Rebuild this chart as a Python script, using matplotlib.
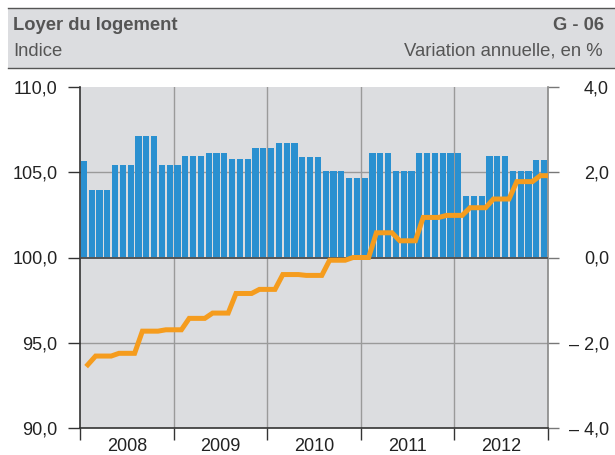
"""Loyer du logement (G - 06): rent index (line, left axis) and
annual change in % (bars, right axis), monthly 2008-2012.
"""
import matplotlib

matplotlib.use("Agg")
import matplotlib.pyplot as plt
from matplotlib.patches import Rectangle
from matplotlib.lines import Line2D

plt.rcParams.update(
    {
        "font.family": ["Liberation Sans", "DejaVu Sans"],
        "figure.dpi": 100,
        "axes.linewidth": 1.2,
    }
)

YEARS = ["2008", "2009", "2010", "2011", "2012"]

# annual change, % (one bar per month)
VARIATION = [
    2.27, 1.59, 1.59, 1.59, 2.18, 2.18, 2.18, 2.84, 2.84, 2.84, 2.18, 2.18,
    2.18, 2.37, 2.37, 2.37, 2.46, 2.46, 2.46, 2.30, 2.30, 2.30, 2.56, 2.56,
    2.56, 2.68, 2.68, 2.68, 2.35, 2.35, 2.35, 2.02, 2.02, 2.02, 1.87, 1.87,
    1.87, 2.46, 2.46, 2.46, 2.04, 2.04, 2.04, 2.46, 2.46, 2.46, 2.46, 2.46,
    2.46, 1.45, 1.45, 1.45, 2.38, 2.38, 2.38, 2.04, 2.04, 2.04, 2.29, 2.29,
]

# index level (one point per month, end of month)
INDEX = [
    93.71, 94.22, 94.22, 94.22, 94.38, 94.38, 94.38, 95.68, 95.68, 95.68, 95.76, 95.76,
    95.76, 96.43, 96.43, 96.43, 96.74, 96.74, 96.74, 97.89, 97.89, 97.89, 98.13, 98.13,
    98.13, 99.00, 99.00, 99.00, 98.95, 98.95, 98.95, 99.84, 99.84, 99.84, 100.00, 100.00,
    100.00, 101.45, 101.45, 101.45, 100.98, 100.98, 100.98, 102.35, 102.35, 102.35, 102.47, 102.47,
    102.47, 102.92, 102.92, 102.92, 103.43, 103.43, 103.43, 104.45, 104.45, 104.45, 104.80, 104.80,
]

INDEX_TICKS = [90, 95, 100, 105, 110]
INDEX_LABELS = ["90,0", "95,0", "100,0", "105,0", "110,0"]
VAR_TICKS = [-4, -2, 0, 2, 4]
VAR_LABELS = ["\u2013 4,0", "\u2013 2,0", "0,0", "2,0", "4,0"]

BG = "#dcdde0"
BLUE = "#2a90d0"
ORANGE = "#f59c1e"
DARK = "#333333"
GRID = "#9a9a9a"
TEXT = "#222222"
HEAD = "#555555"


def header(fig) -> None:
    W, H = fig.get_size_inches() * fig.dpi
    fig.patches.append(
        Rectangle((8 / W, 1 - 68 / H), 1, 60.5 / H, transform=fig.transFigure,
                  facecolor=BG, edgecolor="none", zorder=0)
    )
    for y in (7.5, 68):
        fig.add_artist(Line2D([8 / W, 1], [1 - y / H] * 2, transform=fig.transFigure,
                              color="#555555", lw=1.0))
    fig.text(13 / W, 1 - 25 / H, "Loyer du logement", fontsize=13.2, fontweight="bold",
             color=HEAD, va="center", ha="left")
    fig.text(604 / W, 1 - 25 / H, "G - 06", fontsize=13.2, fontweight="bold",
             color=HEAD, va="center", ha="right")
    fig.text(13 / W, 1 - 51 / H, "Indice", fontsize=13.3, color=HEAD,
             va="center", ha="left")
    fig.text(603 / W, 1 - 51 / H, "Variation annuelle, en %", fontsize=13.3,
             color=HEAD, va="center", ha="right")


def main() -> None:
    fig = plt.figure(figsize=(6.15, 4.55))
    header(fig)

    # bars on the base axes (right scale), line on the twin (left scale) so it sits on top
    ax = fig.add_axes([80 / 615, 27 / 455, 468 / 615, 341 / 455])
    ax2 = ax.twinx()
    ax.yaxis.tick_right()
    ax2.yaxis.tick_left()

    ax.set_facecolor(BG)
    months = range(len(VARIATION))
    ax.bar([m + 0.5 for m in months], VARIATION, width=0.77, color=BLUE, zorder=2)
    ax.set_ylim(-4, 4)
    ax.set_xlim(0, len(VARIATION))
    for v in (-2, 2):
        ax.axhline(v, color=GRID, lw=1.0, zorder=1)
    ax.axhline(0, color="#555555", lw=1.4, zorder=3)
    for k in range(12, len(VARIATION), 12):
        ax.axvline(k, color=GRID, lw=1.0, zorder=1)

    ax.set_yticks(VAR_TICKS)
    ax.set_yticklabels(VAR_LABELS)
    ax.tick_params(axis="y", direction="out", length=8, width=1.0, color="#777777",
                   labelsize=13, labelcolor=TEXT, pad=36)
    for lab in ax.get_yticklabels():
        lab.set_horizontalalignment("right")

    ax.set_xticks(range(0, len(VARIATION) + 1, 12))
    ax.set_xticklabels([])
    ax.set_xticks([6 + 12 * i for i in range(len(YEARS))], minor=True)
    ax.set_xticklabels(YEARS, minor=True)
    ax.tick_params(axis="x", which="major", direction="out", length=8.5, width=1.0,
                   color=DARK)
    ax.tick_params(axis="x", which="minor", length=0, labelsize=13,
                   labelcolor=TEXT, pad=7.5)

    ax.spines["top"].set_visible(False)
    ax.spines["left"].set_color(DARK)
    ax.spines["bottom"].set_color(DARK)
    ax.spines["right"].set_color("#888888")

    ax2.plot([m + 1 for m in months], INDEX, color=ORANGE, lw=3.6,
             solid_joinstyle="miter", zorder=4)
    ax2.set_ylim(90, 110)
    ax2.set_yticks(INDEX_TICKS)
    ax2.set_yticklabels(INDEX_LABELS)
    ax2.tick_params(axis="y", direction="out", length=8.6, width=1.0, color=DARK,
                    labelsize=13, labelcolor=TEXT, pad=7.5)
    for side in ax2.spines.values():
        side.set_visible(False)

    fig.savefig("out.png", dpi=100)
    plt.close(fig)


if __name__ == "__main__":
    main()
